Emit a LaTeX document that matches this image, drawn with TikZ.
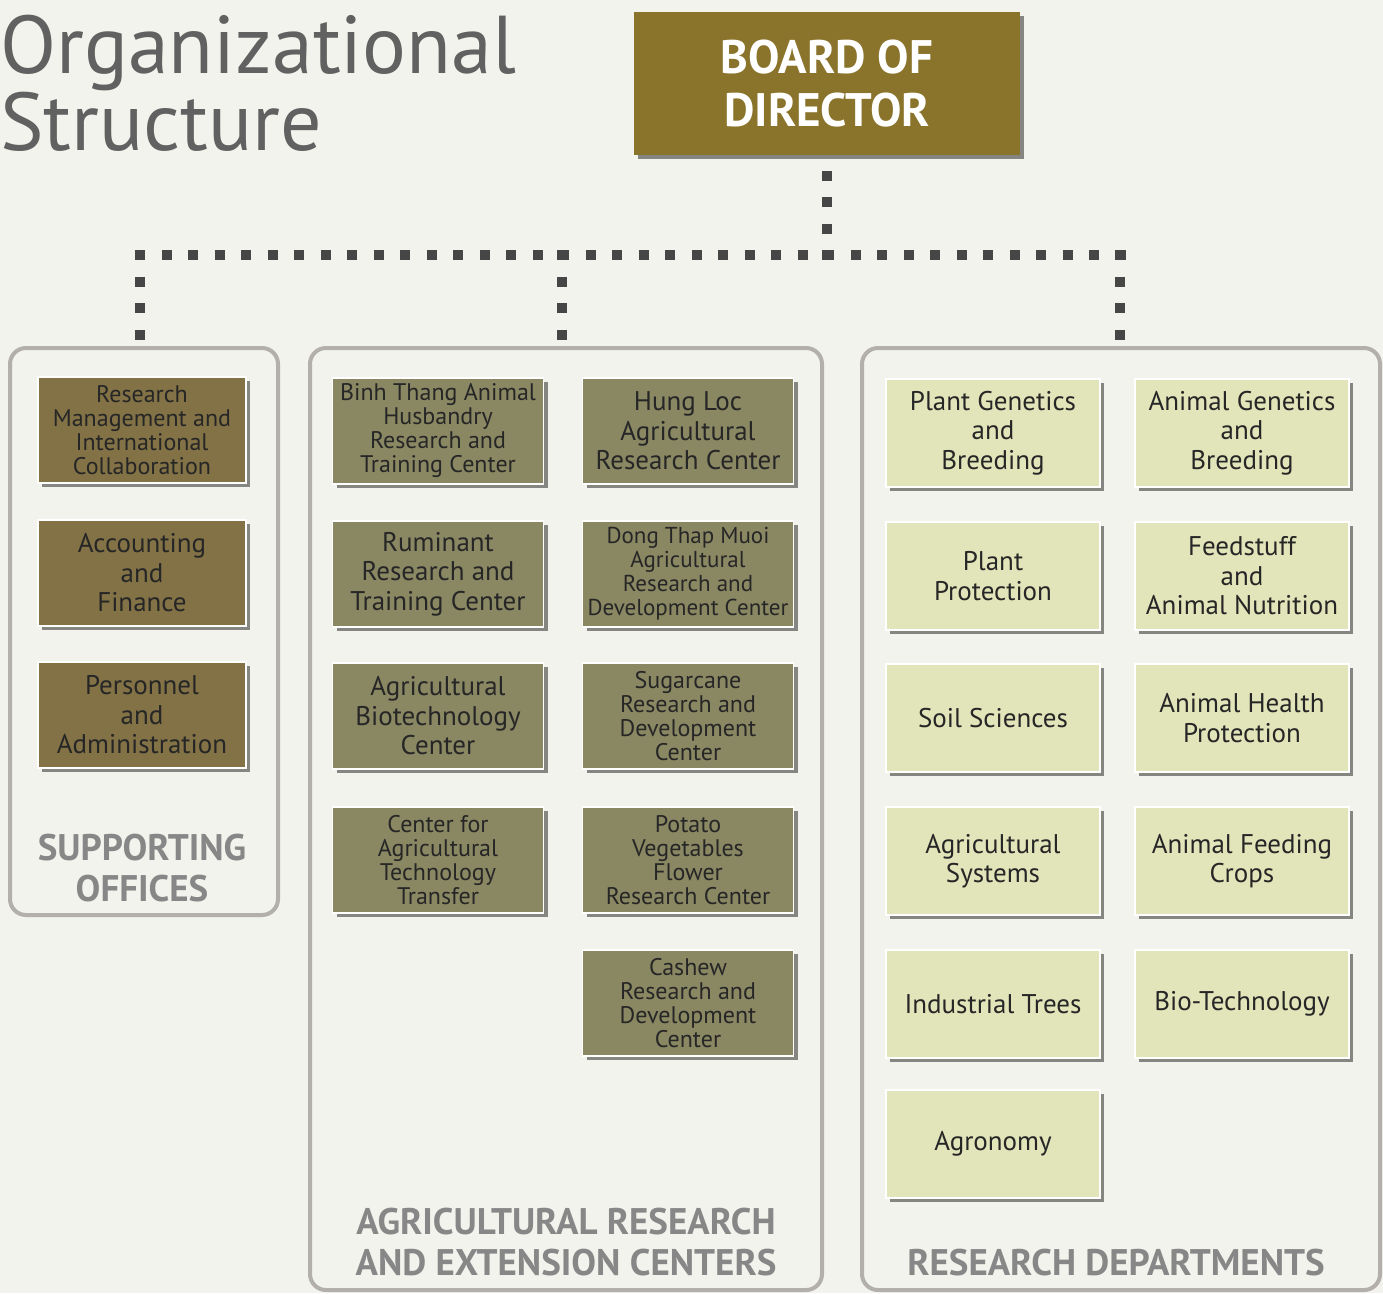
\documentclass[tikz,border=0pt]{standalone}
\usepackage{fontspec}
\setmainfont{PT Sans}
\usetikzlibrary{shadows}

\definecolor{paper}{HTML}{F3F3ED}
\definecolor{boardgold}{HTML}{8A732B}
\definecolor{officebrown}{HTML}{827246}
\definecolor{centerolive}{HTML}{8A8763}
\definecolor{deptlight}{HTML}{E2E5BA}
\definecolor{framegray}{HTML}{B3AFAA}
\definecolor{labelgray}{HTML}{878787}
\definecolor{dotgray}{HTML}{464646}

\begin{document}
\begin{tikzpicture}[x=1pt,y=-1pt,
    unitbox/.style={draw=white,line width=1.5pt,inner sep=0pt,align=center,text=black!85,
        drop shadow={shadow xshift=4pt,shadow yshift=-4pt,fill=black,opacity=0.45}},
    officebox/.style={unitbox,fill=officebrown,minimum width=208pt,minimum height=106pt},
    centerbox/.style={unitbox,fill=centerolive,minimum width=211pt,minimum height=106pt},
    deptbox/.style={unitbox,fill=deptlight,minimum width=214pt,minimum height=108pt},
    bigtxt/.style={font=\fontsize{27}{29.5}\selectfont},
    smalltxt/.style={font=\fontsize{24}{24}\selectfont},
    groupframe/.style={draw=framegray,line width=4pt,rounded corners=16pt,fill=paper,inner sep=0pt},
    grouplabel/.style={align=center,text=labelgray,font=\bfseries\fontsize{37}{41}\selectfont},
    dotline/.style={draw=dotgray,line width=10pt,dash pattern=on 10pt off 16.5pt}]

\fill[paper] (0,0) rectangle (1383,1293);
\useasboundingbox (0,0) rectangle (1383,1293);

% title
\node[anchor=base west,inner sep=0pt,text=black!62,font=\fontsize{82}{82}\selectfont] (title1) at (0,73) {Organizational};
\node[anchor=base west,inner sep=0pt,text=black!62,font=\fontsize{82}{82}\selectfont] (title2) at (0,150) {Structure};

% board
\node[fill=boardgold,minimum width=386pt,minimum height=143pt,align=center,text=white,
    font=\bfseries\fontsize{47}{53}\selectfont,
    drop shadow={shadow xshift=4pt,shadow yshift=-4pt,fill=black,opacity=0.45}] (board) at (827,83.5) {BOARD OF\\DIRECTOR};

% the three groups
\node[groupframe,minimum width=268pt,minimum height=567pt] (sup) at (144,631.5) {};
\node[groupframe,minimum width=512pt,minimum height=942pt] (cen) at (566,819) {};
\node[groupframe,minimum width=518pt,minimum height=942pt] (res) at (1121,819) {};

\node[grouplabel] (suplabel) at (142,868) {SUPPORTING\\OFFICES};
\node[grouplabel] (cenlabel) at (566,1242) {AGRICULTURAL RESEARCH\\AND EXTENSION CENTERS};
\node[grouplabel] (reslabel) at (1116,1263) {RESEARCH DEPARTMENTS};

% supporting offices
\node[officebox,smalltxt] (off1) at (142,430) {Research\\Management and\\International\\Collaboration};
\node[officebox,bigtxt] (off2) at (142,573) {Accounting\\and\\Finance};
\node[officebox,bigtxt] (off3) at (142,715) {Personnel\\and\\Administration};

% research and extension centers
\node[centerbox,smalltxt] (cen1) at (438,431) {Binh Thang Animal\\Husbandry\\Research and\\Training Center};
\node[centerbox,bigtxt] (cen2) at (438,574) {Ruminant\\Research and\\Training Center};
\node[centerbox,bigtxt] (cen3) at (438,716) {Agricultural\\Biotechnology\\Center};
\node[centerbox,smalltxt] (cen4) at (438,860) {Center for\\Agricultural\\Technology\\Transfer};
\node[centerbox,bigtxt] (cen5) at (688,431) {Hung Loc\\Agricultural\\Research Center};
\node[centerbox,font=\fontsize{23}{24}\selectfont] (cen6) at (688,574) {Dong Thap Muoi\\Agricultural\\Research and\\Development Center};
\node[centerbox,smalltxt] (cen7) at (688,716) {Sugarcane\\Research and\\Development\\Center};
\node[centerbox,smalltxt] (cen8) at (688,860) {Potato\\Vegetables\\Flower\\Research Center};
\node[centerbox,smalltxt] (cen9) at (688,1003) {Cashew\\Research and\\Development\\Center};

% research departments
\node[deptbox,bigtxt] (dep1) at (993,433) {Plant Genetics\\and\\Breeding};
\node[deptbox,bigtxt] (dep2) at (993,576) {Plant\\Protection};
\node[deptbox,bigtxt] (dep3) at (993,718) {Soil Sciences};
\node[deptbox,bigtxt] (dep4) at (993,861) {Agricultural\\Systems};
\node[deptbox,bigtxt] (dep5) at (993,1004) {Industrial Trees};
\node[deptbox,bigtxt] (dep6) at (993,1144) {Agronomy};
\node[deptbox,bigtxt] (dep7) at (1242,433) {Animal Genetics\\and\\Breeding};
\node[deptbox,bigtxt] (dep8) at (1242,576) {Feedstuff\\and\\Animal Nutrition};
\node[deptbox,bigtxt] (dep9) at (1242,718) {Animal Health\\Protection};
\node[deptbox,bigtxt] (dep10) at (1242,861) {Animal Feeding\\Crops};
\node[deptbox,bigtxt] (dep11) at (1242,1004) {Bio-Technology};

% dotted connectors
\coordinate (bus) at (827,260);
\coordinate (busW) at (135,255);
\coordinate (busE) at (1125.5,255);
\coordinate (dropS) at (140,250);
\coordinate (dropC) at (562,250);
\coordinate (dropR) at (1120,250);
\draw[dotline,shorten >=14pt] (bus) -- (board.south);
\draw[dotline] (busW) -- (busE);
\draw[dotline] (dropS) -- (dropS |- sup.north);
\draw[dotline] (dropC) -- (dropC |- cen.north);
\draw[dotline] (dropR) -- (dropR |- res.north);
\end{tikzpicture}
\end{document}
